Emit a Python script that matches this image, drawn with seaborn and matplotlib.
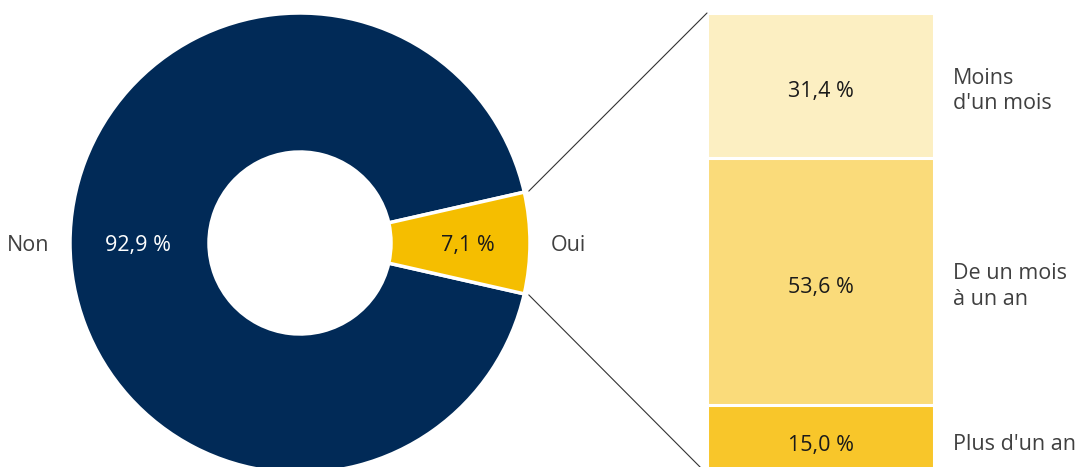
import numpy as np
import matplotlib.pyplot as plt
from matplotlib.patches import ConnectionPatch
import seaborn as sns

pie_labels = ["Non", "Oui"]
pie_values = [92.9, 7.1]
bar_labels = ["Moins\nd'un mois", "De un mois\nà un an", "Plus d'un an"]
bar_values = [31.4, 53.6, 15.0]

navy = "#012a57"
gold = "#f5be00"
bar_colors = ["#fcefc2", "#fadb7a", "#f8c62a"]
label_gray = "#404040"
dark = "#1a1a1a"

sns.set_theme(style="white")
plt.rcParams["font.family"] = ["Open Sans", "DejaVu Sans"]
FS = 15.5


def fr(v):
    return f"{v:.1f} %".replace(".", ",")


fig = plt.figure(figsize=(10.79, 4.67), dpi=100)
ax = fig.add_axes([0, 0, 1, 1])

# donut, laid out in pixel units of the figure
cx, cy, R, r = 300, 224, 230, 91
half = pie_values[1] / sum(pie_values) * 180
wedges, texts = ax.pie(
    pie_values, labels=pie_labels, colors=[navy, gold], startangle=half,
    center=(cx, cy), radius=R, labeldistance=1.09,
    wedgeprops=dict(width=R - r, edgecolor="white", linewidth=2.5),
    textprops=dict(fontsize=FS, color=label_gray),
)
texts[0].set_ha("right")
texts[1].set_ha("left")
for t in texts:
    t.set_va("center_baseline")
ax.set_xlim(0, 1079)
ax.set_ylim(0, 467)
ax.set_aspect("equal")
ax.axis("off")

pct_dist = [0.705, 0.73]
pct_colors = ["white", dark]
for w, v, d, c in zip(wedges, pie_values, pct_dist, pct_colors):
    mid = np.deg2rad((w.theta1 + w.theta2) / 2)
    ax.text(cx + R * d * np.cos(mid), cy + R * d * np.sin(mid), fr(v),
            ha="center", va="center_baseline", fontsize=FS, color=c)

# stacked bar for the "Oui" breakdown
ax_bar = fig.add_axes([707 / 1079, -7 / 467, 227 / 1079, 461 / 467])
cum = np.cumsum(bar_values)
for end, color in zip(cum[::-1], bar_colors[::-1]):
    sns.barplot(x=["Oui"], y=[end], color=color, saturation=1, width=1,
                errorbar=None, edgecolor="white", linewidth=2.2, ax=ax_bar)
ax_bar.set_xlim(-0.5, 0.5)
ax_bar.set_ylim(100, 0)
ax_bar.axis("off")

starts = cum - np.array(bar_values)
for s, v, lab in zip(starts, bar_values, bar_labels):
    m = s + v / 2
    ax_bar.text(0, m + 0.8, fr(v), ha="center", va="center_baseline", fontsize=FS, color=dark)
    ax_bar.text(0.585, m + 1.2, lab, ha="left", va="center", fontsize=FS,
                color=label_gray, linespacing=1.3, clip_on=False)

# connector lines from the "Oui" wedge to the bar corners
oui = wedges[1]
for theta, yb in [(oui.theta2, 0), (oui.theta1, 100)]:
    t = np.deg2rad(theta)
    con = ConnectionPatch(
        xyA=(cx + R * 1.02 * np.cos(t), cy + R * 1.02 * np.sin(t)), coordsA=ax.transData,
        xyB=(-0.5, yb), coordsB=ax_bar.transData, color="#333333", lw=0.8,
    )
    fig.add_artist(con)

fig.savefig("out.png", dpi=100)
